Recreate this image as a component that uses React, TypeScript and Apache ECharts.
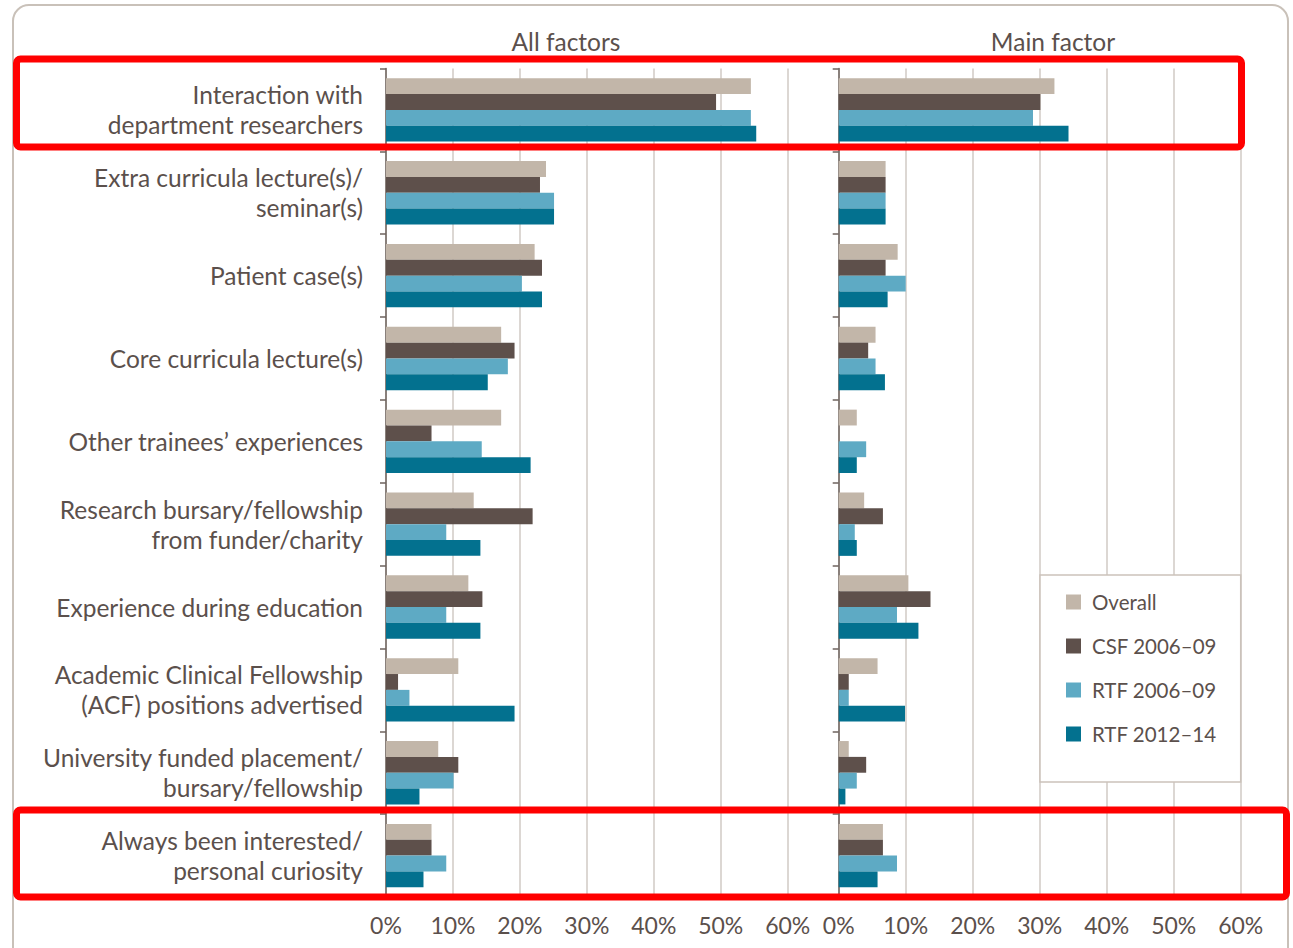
import React, { useEffect, useRef } from "react";
import * as echarts from "echarts";

const categories = [
  "Interaction with\ndepartment researchers",
  "Extra curricula lecture(s)/\nseminar(s)",
  "Patient case(s)",
  "Core curricula lecture(s)",
  "Other trainees’ experiences",
  "Research bursary/fellowship\nfrom funder/charity",
  "Experience during education",
  "Academic Clinical Fellowship\n(ACF) positions advertised",
  "University funded placement/\nbursary/fellowship",
  "Always been interested/\npersonal curiosity",
];

const seriesNames = ["Overall", "CSF 2006–09", "RTF 2006–09", "RTF 2012–14"];

// All factors (%)
const allOverall = [54.5, 23.9, 22.2, 17.2, 17.2, 13.1, 12.3, 10.8, 7.8, 6.8];
const allCsf0609 = [49.3, 23.0, 23.3, 19.2, 6.8, 21.9, 14.4, 1.8, 10.8, 6.8];
const allRtf0609 = [54.5, 25.1, 20.3, 18.2, 14.3, 9.0, 9.0, 3.5, 10.1, 9.0];
const allRtf1214 = [55.3, 25.1, 23.3, 15.2, 21.6, 14.1, 14.1, 19.2, 5.0, 5.6];

// Main factor (%)
const mainOverall = [32.2, 7.0, 8.8, 5.5, 2.7, 3.8, 10.4, 5.8, 1.5, 6.6];
const mainCsf0609 = [30.1, 7.0, 7.0, 4.4, 0, 6.6, 13.7, 1.5, 4.1, 6.6];
const mainRtf0609 = [29.0, 7.0, 10.0, 5.5, 4.1, 2.4, 8.7, 1.5, 2.7, 8.7];
const mainRtf1214 = [34.3, 7.0, 7.3, 6.9, 2.7, 2.7, 11.9, 9.9, 1.0, 5.8];

const xTicks = [0, 10, 20, 30, 40, 50, 60];
const panelTitles = ["All factors", "Main factor"];

const colors = ["#c2b6a9", "#5e504b", "#5eaac4", "#03718f"];
const textColor = "#5b504c";
const gridColor = "#d4cdc8";
const axisColor = "#6e635e";
const FONT = "Lato, 'Open Sans', sans-serif";

export default function App() {
  const ref = useRef<HTMLDivElement>(null);

  useEffect(() => {
    if (!ref.current) return;
    const chart = echarts.init(ref.current, undefined, { renderer: "svg" });

    const grids = [
      { left: 386, top: 68.5, width: 401.7, bottom: 948 - 897 },
      { left: 838.7, top: 68.5, width: 402, bottom: 948 - 897 },
    ];

    const xAxes = [0, 1].map((i) => ({
      type: "value",
      gridIndex: i,
      min: xTicks[0],
      max: xTicks[xTicks.length - 1],
      interval: 10,
      axisLine: { show: false },
      axisTick: { show: false },
      splitLine: { show: true, lineStyle: { color: gridColor, width: 1.6 } },
      axisLabel: {
        formatter: (v: number) => `${v}%`,
        color: textColor,
        fontSize: 23,
        fontFamily: FONT,
        margin: 16,
      },
    }));

    const yAxes = [0, 1].map((i) => ({
      type: "category",
      gridIndex: i,
      data: categories,
      inverse: true,
      axisLine: { show: true, lineStyle: { color: axisColor, width: 1.5 } },
      axisTick: { show: true, inside: false, length: 6, lineStyle: { color: axisColor, width: 1.5 } },
      axisLabel: {
        show: i === 0,
        color: textColor,
        fontSize: 24.5,
        fontFamily: FONT,
        lineHeight: 30,
        margin: 23,
        align: "right",
        backgroundColor: "rgba(255,255,255,0)",
        padding: [0, 0, 8, 0],
      },
    }));

    const allData = [allOverall, allCsf0609, allRtf0609, allRtf1214];
    const mainData = [mainOverall, mainCsf0609, mainRtf0609, mainRtf1214];

    const series: any[] = [];
    [allData, mainData].forEach((panel, p) => {
      panel.forEach((d, k) => {
        series.push({
          name: seriesNames[k],
          type: "bar",
          xAxisIndex: p,
          yAxisIndex: p,
          data: d,
          barGap: "0%",
          barCategoryGap: "23.5%",
          itemStyle: { color: colors[k] },
          emphasis: { disabled: true },
        });
      });
    });

    chart.setOption({
      animation: false,
      color: colors,
      grid: grids,
      xAxis: xAxes,
      yAxis: yAxes,
      series,
      legend: {
        data: seriesNames,
        orient: "vertical",
        left: 1066,
        top: 591,
        padding: 0,
        icon: "rect",
        itemWidth: 15,
        itemHeight: 15,
        itemGap: 22,
        selectedMode: false,
        z: 20,
        textStyle: {
          color: textColor,
          fontSize: 20.5,
          fontFamily: FONT,
          padding: [0, 0, 0, 6],
          lineHeight: 22,
        },
      },
      graphic: [
        {
          type: "rect",
          z: 10,
          shape: { x: 1040, y: 575, width: 200.7, height: 207 },
          style: { fill: "#ffffff", stroke: "#cbc2ba", lineWidth: 1.5 },
        },
        {
          type: "rect",
          z: 1,
          silent: true,
          shape: { x: 13, y: 5, width: 1275, height: 980, r: 16 },
          style: { fill: "none", stroke: "#c9c1b9", lineWidth: 2 },
        },
        {
          type: "text",
          x: 566,
          y: 41,
          style: {
            text: panelTitles[0],
            fill: textColor,
            font: `24.5px ${FONT}`,
            textAlign: "center",
            textVerticalAlign: "middle",
          },
        },
        {
          type: "text",
          x: 1053,
          y: 41,
          style: {
            text: panelTitles[1],
            fill: textColor,
            font: `24.5px ${FONT}`,
            textAlign: "center",
            textVerticalAlign: "middle",
          },
        },
        {
          type: "rect",
          z: 30,
          silent: true,
          shape: { x: 16.5, y: 59, width: 1225, height: 88, r: 4 },
          style: { fill: "none", stroke: "#ff0000", lineWidth: 7 },
        },
        {
          type: "rect",
          z: 30,
          silent: true,
          shape: { x: 16.5, y: 810, width: 1270, height: 87, r: 4 },
          style: { fill: "none", stroke: "#ff0000", lineWidth: 7 },
        },
      ],
    });

    return () => chart.dispose();
  }, []);

  return (
    <div
      ref={ref}
      style={{ position: "absolute", left: 0, top: 0, width: 1293, height: 948, background: "#ffffff" }}
    />
  );
}
